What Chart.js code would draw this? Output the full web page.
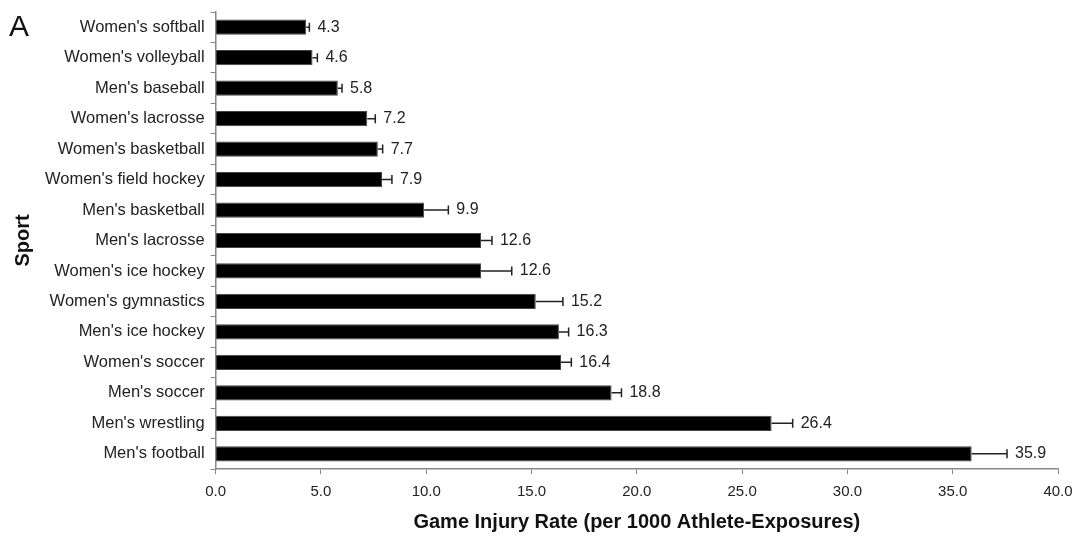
<!DOCTYPE html>
<html>
<head>
<meta charset="utf-8">
<script src="https://cdn.jsdelivr.net/npm/chart.js@4.4.1/dist/chart.umd.min.js"></script>
<style>
  html, body { margin: 0; padding: 0; background: #fff; }
  #wrap { position: relative; width: 1083px; height: 541px; }
</style>
</head>
<body>
<div id="wrap"><canvas id="graficaLesiones"></canvas></div>
<script>
// Datos
const deportes = [
    "Women's softball", "Women's volleyball", "Men's baseball", "Women's lacrosse",
    "Women's basketball", "Women's field hockey", "Men's basketball", "Men's lacrosse",
    "Women's ice hockey", "Women's gymnastics", "Men's ice hockey", "Women's soccer",
    "Men's soccer", "Men's wrestling", "Men's football"
];
const tasas = [4.3, 4.6, 5.8, 7.2, 7.7, 7.9, 9.9, 12.6, 12.6, 15.2, 16.3, 16.4, 18.8, 26.4, 35.9];
// extremo superior del intervalo (solo se dibuja hacia la derecha)
const errores = [0.15, 0.23, 0.2, 0.38, 0.23, 0.47, 1.15, 0.52, 1.46, 1.29, 0.46, 0.49, 0.47, 1.0, 1.68];
const ticksX = [0, 5, 10, 15, 20, 25, 30, 35, 40];

const fuente = "'Liberation Sans', Arial, sans-serif";

// Barras de error + etiquetas de valor
const pluginErrores = {
    id: 'errores',
    afterDatasetsDraw(chart) {
        const ctx = chart.ctx;
        const x = chart.scales.x;
        const meta = chart.getDatasetMeta(0);
        ctx.save();
        meta.data.forEach((barra, i) => {
            const y = barra.y;
            const x0 = x.getPixelForValue(tasas[i]);
            const x1 = x.getPixelForValue(tasas[i] + errores[i]);
            ctx.strokeStyle = '#222';
            ctx.lineWidth = 1.5;
            ctx.beginPath();
            ctx.moveTo(x0, y);
            ctx.lineTo(x1, y);
            ctx.moveTo(x1, y - 4.5);
            ctx.lineTo(x1, y + 4.5);
            ctx.stroke();
            ctx.fillStyle = '#222';
            ctx.font = '16px ' + fuente;
            ctx.textBaseline = 'middle';
            ctx.textAlign = 'left';
            ctx.fillText(tasas[i].toFixed(1), x1 + 8, y);
        });
        // letra del panel
        ctx.font = '30px ' + fuente;
        ctx.fillStyle = '#111';
        ctx.textBaseline = 'alphabetic';
        ctx.fillText('A', 9, 36);
        ctx.restore();
    }
};

new Chart(document.getElementById('graficaLesiones'), {
    type: 'bar',
    data: {
        labels: deportes,
        datasets: [{
            data: tasas,
            backgroundColor: '#000',
            borderColor: '#444',
            borderWidth: 1,
            categoryPercentage: 1,
            barPercentage: 0.5
        }]
    },
    options: {
        indexAxis: 'y',
        responsive: true,
        maintainAspectRatio: false,
        animation: false,
        layout: { padding: { left: 11, right: 25, top: 12, bottom: 7 } },
        plugins: {
            legend: { display: false },
            tooltip: { enabled: false }
        },
        scales: {
            x: {
                min: 0, max: 40,
                afterBuildTicks: (axis) => { axis.ticks = ticksX.map(v => ({ value: v })); },
                ticks: {
                    callback: (v) => Number(v).toFixed(1),
                    color: '#222',
                    font: { family: fuente, size: 15 },
                    padding: 9,
                    maxRotation: 0
                },
                grid: { drawOnChartArea: false, drawTicks: true, tickLength: 5, color: '#888' },
                border: { color: '#888', width: 1.5 },
                title: {
                    display: true,
                    text: 'Game Injury Rate (per 1000 Athlete-Exposures)',
                    color: '#111',
                    font: { family: fuente, size: 20, weight: 'bold' },
                    padding: { top: 0, bottom: 0 }
                }
            },
            y: {
                afterFit: (escala) => { escala.paddingTop = 0; escala.paddingBottom = 0; },
                ticks: {
                    color: '#222',
                    font: { family: fuente, size: 16.5 },
                    padding: 6
                },
                grid: { offset: true, drawOnChartArea: false, drawTicks: true, tickLength: 5, color: '#888' },
                border: { color: '#888', width: 1.5 },
                title: {
                    display: true,
                    text: 'Sport',
                    color: '#111',
                    font: { family: fuente, size: 20, weight: 'bold' },
                    padding: { top: 0, bottom: 4 }
                }
            }
        }
    },
    plugins: [pluginErrores]
});
</script>
</body>
</html>
